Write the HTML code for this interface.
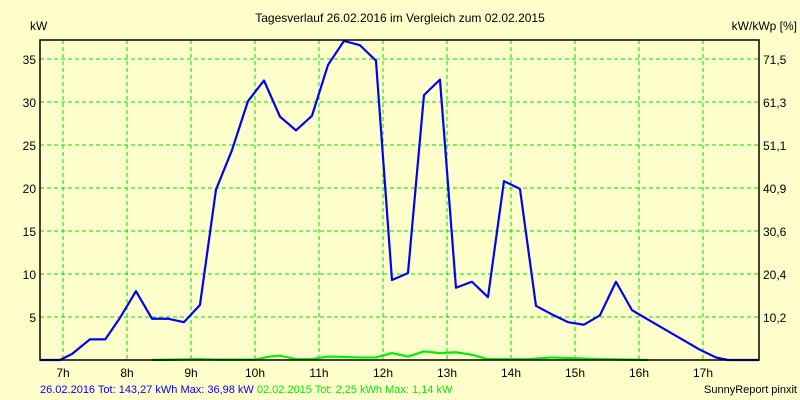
<!DOCTYPE html>
<html><head><meta charset="utf-8"><style>
html,body{margin:0;padding:0;background:#ffffcc;}
svg{display:block;font-family:"Liberation Sans",sans-serif;font-size:12px;}
</style></head><body>
<svg width="800" height="400" xmlns="http://www.w3.org/2000/svg">
<rect width="800" height="400" fill="#ffffcc"/>
<text x="400" y="22" text-anchor="middle">Tagesverlauf 26.02.2016 im Vergleich zum 02.02.2015</text>
<text x="30" y="30">kW</text>
<text x="797" y="30" text-anchor="end">kW/kWp [%]</text>
<g id="grid"></g>
<g id="series"></g>
<rect x="40" y="40" width="719" height="320" fill="none" stroke="#000" stroke-width="1.5"/>
<g id="labels"></g>
<text x="40" y="393" font-size="11"><tspan fill="#0000ff">26.02.2016 Tot: 143,27 kWh Max: 36,98 kW</tspan><tspan fill="#00ee00"> 02.02.2015 Tot: 2,25 kWh Max: 1,14 kW</tspan></text>
<text x="797" y="393" text-anchor="end" font-size="11">SunnyReport pinxit</text>
</svg>
<script>
const hourTicks=[7,8,9,10,11,12,13,14,15,16,17];
const yTicks=[5,10,15,20,25,30,35];
const y2Labels=["10,2","20,4","30,6","40,9","51,1","61,3","71,5"];
const blueT=[6.64,6.95,7.14,7.42,7.66,7.89,8.14,8.39,8.64,8.89,9.14,9.39,9.64,9.89,10.14,10.39,10.64,10.89,11.14,11.39,11.64,11.89,12.14,12.39,12.64,12.89,13.14,13.39,13.64,13.89,14.14,14.39,14.64,14.89,15.14,15.39,15.64,15.89,16.14,16.95,17.2,17.39,17.875];
const blueV=[0,0,0.7,2.4,2.4,4.9,8.0,4.8,4.8,4.4,6.4,19.8,24.4,30.1,32.5,28.3,26.7,28.4,34.3,37.1,36.6,34.8,9.3,10.1,30.8,32.6,8.4,9.1,7.3,20.8,19.9,6.3,5.3,4.4,4.1,5.2,9.1,5.8,4.7,1.2,0.3,0,0];
const greenT=[8.39,9.14,9.39,10.0,10.23,10.39,10.64,10.89,11.14,11.64,11.89,12.14,12.39,12.64,12.89,13.14,13.39,13.64,14.27,14.64,15.39,16.14];
const greenV=[0,0.1,0.05,0.05,0.4,0.5,0.1,0.1,0.4,0.3,0.3,0.8,0.4,1.0,0.8,0.9,0.6,0.1,0.1,0.3,0.1,0];
const NS="http://www.w3.org/2000/svg";
function xs(t){return 63+(t-7)*64;}
function ys(v){return 360-v*8.6;}
function mk(tag,attrs,parent){const e=document.createElementNS(NS,tag);for(const k in attrs)e.setAttribute(k,attrs[k]);parent.appendChild(e);return e;}
const grid=document.getElementById('grid'),labels=document.getElementById('labels'),series=document.getElementById('series');
hourTicks.forEach(h=>{
 const l=mk('line',{x1:xs(h),x2:xs(h),y1:40,y2:360,stroke:'#00dd00','stroke-dasharray':'4,3'},grid);
 
 
 const t=mk('text',{x:xs(h),y:377,'text-anchor':'middle'},labels);t.textContent=h+'h';
 
 
});
yTicks.forEach((v,i)=>{
 const l=mk('line',{x1:40,x2:759,y1:ys(v),y2:ys(v),stroke:'#00dd00','stroke-dasharray':'4,3'},grid);
 
 
 const t=mk('text',{x:36,y:ys(v)+5,'text-anchor':'end'},labels);t.textContent=v;
 
 
 const t2=mk('text',{x:763,y:ys(v)+5},labels);t2.textContent=y2Labels[i];
 
 
});
function line(T,V,color,name){
 const p=mk('polyline',{points:T.map((t,i)=>xs(t)+','+ys(V[i])).join(' '),fill:'none',stroke:color,'stroke-width':2.2,'stroke-linejoin':'round'},series);
 
 
}
line(greenT,greenV,'#00ee00','series-2015-line');
line(blueT,blueV,'#0000ff','series-2016-line');
</script>
</body></html>
